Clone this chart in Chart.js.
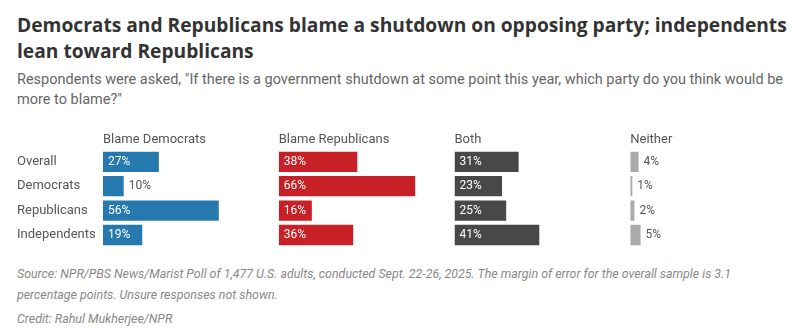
<!DOCTYPE html>
<html>
<head>
<meta charset="utf-8">
<script src="https://cdn.jsdelivr.net/npm/chart.js@4.4.1/dist/chart.umd.min.js"></script>
<style>
  html, body { margin: 0; padding: 0; background: #ffffff; width: 806px; height: 336px; overflow: hidden; }
  body { position: relative; font-family: Roboto, "Noto Sans", sans-serif; }
  #title { position: absolute; left: 17px; top: 12px; font-family: "Open Sans", Roboto, sans-serif; font-weight: 700; font-size: 19.2px; line-height: 26px; color: #333333; white-space: nowrap; }
  #sub { position: absolute; left: 17px; top: 70px; font-size: 14.5px; line-height: 20px; color: #666666; white-space: nowrap; }
  #wrap { position: absolute; left: 17px; top: 128px; width: 789px; height: 127px; }
  #foot { position: absolute; left: 17px; top: 263px; font-size: 12.4px; font-style: italic; line-height: 21px; color: #888888; white-space: nowrap; }
  #credit { margin-top: 3px; }
</style>
</head>
<body>
<div id="title">Democrats and Republicans blame a shutdown on opposing party; independents<br>lean toward Republicans</div>
<div id="sub">Respondents were asked, "If there is a government shutdown at some point this year, which party do you think would be<br>more to blame?"</div>
<div id="wrap"><canvas id="c"></canvas></div>
<div id="foot">Source: NPR/PBS News/Marist Poll of 1,477 U.S. adults, conducted Sept. 22-26, 2025. The margin of error for the overall sample is 3.1<br>percentage points. Unsure responses not shown.<div id="credit">Credit: Rahul Mukherjee/NPR</div></div>
<script>
// ---- data ----
const categories = ['Overall', 'Democrats', 'Republicans', 'Independents'];
const seriesNames = ['Blame Democrats', 'Blame Republicans', 'Both', 'Neither'];
const blameDemocrats = [27, 10, 56, 19];
const blameRepublicans = [38, 66, 16, 36];
const both = [31, 23, 25, 41];
const neither = [4, 1, 2, 5];

const seriesValues = [blameDemocrats, blameRepublicans, both, neither];
const seriesColors = ['#2679ae', '#c72026', '#484848', '#aaaaaa'];
const axisIds = ['x0', 'x1', 'x2', 'x3'];

const labelFont = '12px Roboto, "Noto Sans", sans-serif';

const datasets = seriesValues.map((vals, i) => ({
  label: seriesNames[i],
  data: vals,
  xAxisID: axisIds[i],
  backgroundColor: seriesColors[i],
  borderWidth: 0,
  grouped: false,
  barPercentage: 1,
  categoryPercentage: 0.83
}));

const scales = {
  y: {
    type: 'category',
    position: 'left',
    grid: { display: false, drawTicks: false },
    border: { display: false },
    ticks: {
      color: '#555555',
      font: { family: 'Roboto, "Noto Sans", sans-serif', size: 13 },
      crossAlign: 'far',
      padding: 0
    },
    afterFit(scale) { scale.width = 86; }
  }
};
// top boxes are laid out in reverse order, so insert the panel axes last-to-first
for (let i = axisIds.length - 1; i >= 0; i--) {
  scales[axisIds[i]] = {
    type: 'linear',
    position: 'top',
    stack: 'panels',
    stackWeight: 1,
    min: 0,
    max: 85,
    grid: { display: false, drawTicks: false },
    border: { display: false },
    ticks: { display: false },
    title: {
      display: true,
      text: seriesNames[i],
      align: 'start',
      color: '#555555',
      font: { family: 'Roboto, "Noto Sans", sans-serif', size: 13 },
      padding: { top: 4, bottom: 2 }
    }
  };
}

const valueLabels = {
  id: 'valueLabels',
  afterDatasetsDraw(chart) {
    const ctx = chart.ctx;
    ctx.save();
    ctx.font = labelFont;
    ctx.textBaseline = 'middle';
    ctx.textAlign = 'left';
    chart.data.datasets.forEach((ds, di) => {
      const meta = chart.getDatasetMeta(di);
      meta.data.forEach((bar, j) => {
        const txt = ds.data[j] + '%';
        const w = ctx.measureText(txt).width;
        const barW = bar.x - bar.base;
        if (barW >= w + 10) {
          ctx.fillStyle = '#ffffff';
          ctx.fillText(txt, bar.base + 5, bar.y);
        } else {
          ctx.fillStyle = '#555555';
          ctx.fillText(txt, bar.x + 5, bar.y);
        }
      });
    });
    ctx.restore();
  }
};

new Chart(document.getElementById('c'), {
  type: 'bar',
  data: { labels: categories, datasets },
  options: {
    indexAxis: 'y',
    responsive: true,
    maintainAspectRatio: false,
    animation: false,
    layout: { padding: 0 },
    plugins: { legend: { display: false }, tooltip: { enabled: false }, title: { display: false } },
    scales
  },
  plugins: [valueLabels]
});
</script>
</body>
</html>
